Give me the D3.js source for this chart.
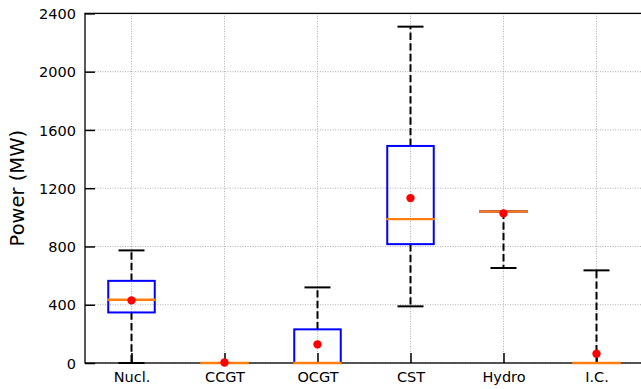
<!DOCTYPE html>
<html>
<head>
<meta charset="utf-8">
<script src="https://cdn.jsdelivr.net/npm/d3@7"></script>
<style>
  body { margin: 0; background: #fff; }
  svg { display: block; font-family: "DejaVu Sans", sans-serif; }
</style>
</head>
<body>
<svg></svg>
<script>
// box stats
let categories = ['Nucl.', 'CCGT', 'OCGT', 'CST', 'Hydro', 'I.C.']
let whiskerLow = [0, 0, 0, 389, 652, 0]
let q1 = [347, 0, 0, 816, 1039, 0]
let medians = [434, 0, 0, 988, 1040, 0]
let q3 = [564, 0, 231, 1490, 1042, 0]
let whiskerHigh = [773, 0, 519, 2309, 1042, 636]
let means = [430, 3, 128, 1132, 1027, 64]
let yTicks = [0, 400, 800, 1200, 1600, 2000, 2400]

let width = 641
let height = 389
let plotLeft = 85
let plotTop = 13.4
let plotRight = 643
let plotBottom = 363

let svg = d3.select('svg')
svg.attr('width', width).attr('height', height)

let values = categories.map((c, i) => ({
    name: c, pos: i + 1,
    lo: whiskerLow[i], q1: q1[i], med: medians[i], q3: q3[i], hi: whiskerHigh[i], mean: means[i]
}))

let xScale = d3.scaleLinear().domain([0.5, 6.5]).range([plotLeft, plotRight])
let yScale = d3.scaleLinear().domain([0, 2400]).range([plotBottom, plotTop])
let boxW = xScale(1.25) - xScale(0.75)
let capW = 26

// grid
let grid = svg.append('g')
grid.selectAll('.gx')
    .data(values)
    .enter()
    .append('line')
    .attr('x1', (d) => xScale(d.pos)).attr('x2', (d) => xScale(d.pos))
    .attr('y1', plotTop).attr('y2', plotBottom)
    .attr('stroke', '#b0b0b0').attr('stroke-width', 1).attr('stroke-dasharray', '1,1.5')
grid.selectAll('.gy')
    .data(yTicks)
    .enter()
    .append('line')
    .attr('x1', plotLeft).attr('x2', plotRight)
    .attr('y1', (d) => yScale(d)).attr('y2', (d) => yScale(d))
    .attr('stroke', '#b0b0b0').attr('stroke-width', 1).attr('stroke-dasharray', '1,1.5')

// axes with inward ticks
let yAxis = d3.axisRight(yScale).tickValues(yTicks).tickSize(10).tickFormat(d3.format('d'))
let gy = svg.append('g').attr('transform', 'translate(' + plotLeft + ',0)').call(yAxis)
gy.select('.domain').remove()
gy.selectAll('.tick line').attr('stroke', '#000').attr('stroke-width', 1.5)
gy.selectAll('.tick text')
    .attr('x', -9).attr('dy', '0.36em')
    .attr('text-anchor', 'end')
    .style('font-size', '14.5px').style('font-family', 'DejaVu Sans').attr('fill', '#000')

let xAxis = d3.axisTop(xScale).tickValues(values.map((d) => d.pos)).tickSize(10)
    .tickFormat((d) => categories[d - 1])
let gx = svg.append('g').attr('transform', 'translate(0,' + plotBottom + ')').call(xAxis)
gx.select('.domain').remove()
gx.selectAll('.tick line').attr('stroke', '#000').attr('stroke-width', 1.5)
gx.selectAll('.tick text')
    .attr('y', 19).attr('dy', 0)
    .attr('text-anchor', 'middle')
    .style('font-size', '14.5px').style('font-family', 'DejaVu Sans').attr('fill', '#000')

// spines
svg.append('rect')
    .attr('x', plotLeft).attr('y', plotTop)
    .attr('width', plotRight - plotLeft).attr('height', plotBottom - plotTop)
    .attr('fill', 'none').attr('stroke', '#000').attr('stroke-width', 1.3)

// boxes
let boxes = svg.selectAll('.box')
    .data(values)
    .enter()
    .append('g')

boxes.append('line')
    .attr('x1', (d) => xScale(d.pos)).attr('x2', (d) => xScale(d.pos))
    .attr('y1', (d) => yScale(d.q3)).attr('y2', (d) => yScale(d.hi))
    .attr('stroke', '#000').attr('stroke-width', 2).attr('stroke-dasharray', '7.4,3.2')
boxes.append('line')
    .attr('x1', (d) => xScale(d.pos)).attr('x2', (d) => xScale(d.pos))
    .attr('y1', (d) => yScale(d.q1)).attr('y2', (d) => yScale(d.lo))
    .attr('stroke', '#000').attr('stroke-width', 2).attr('stroke-dasharray', '7.4,3.2')
boxes.append('line')
    .attr('x1', (d) => xScale(d.pos) - capW / 2).attr('x2', (d) => xScale(d.pos) + capW / 2)
    .attr('y1', (d) => yScale(d.hi)).attr('y2', (d) => yScale(d.hi))
    .attr('stroke', '#000').attr('stroke-width', 2)
boxes.append('line')
    .attr('x1', (d) => xScale(d.pos) - capW / 2).attr('x2', (d) => xScale(d.pos) + capW / 2)
    .attr('y1', (d) => yScale(d.lo)).attr('y2', (d) => yScale(d.lo))
    .attr('stroke', '#000').attr('stroke-width', 2)
boxes.append('rect')
    .attr('x', (d) => xScale(d.pos) - boxW / 2)
    .attr('y', (d) => yScale(d.q3))
    .attr('width', boxW)
    .attr('height', (d) => yScale(d.q1) - yScale(d.q3))
    .attr('fill', 'none').attr('stroke', '#0000ff').attr('stroke-width', 2)
boxes.append('line')
    .attr('x1', (d) => xScale(d.pos) - boxW / 2 - 1).attr('x2', (d) => xScale(d.pos) + boxW / 2 + 1)
    .attr('y1', (d) => yScale(d.med)).attr('y2', (d) => yScale(d.med))
    .attr('stroke', '#ff7f0e').attr('stroke-width', 2.4)
boxes.append('circle')
    .attr('cx', (d) => xScale(d.pos))
    .attr('cy', (d) => yScale(d.mean))
    .attr('r', 4.2)
    .attr('fill', '#ff0000')

// y label
svg.append('text')
    .attr('transform', 'translate(24,' + ((plotTop + plotBottom) / 2) + ') rotate(-90)')
    .attr('text-anchor', 'middle')
    .style('font-size', '19.5px').style('font-family', 'DejaVu Sans')
    .text('Power (MW)')
</script>
</body>
</html>
